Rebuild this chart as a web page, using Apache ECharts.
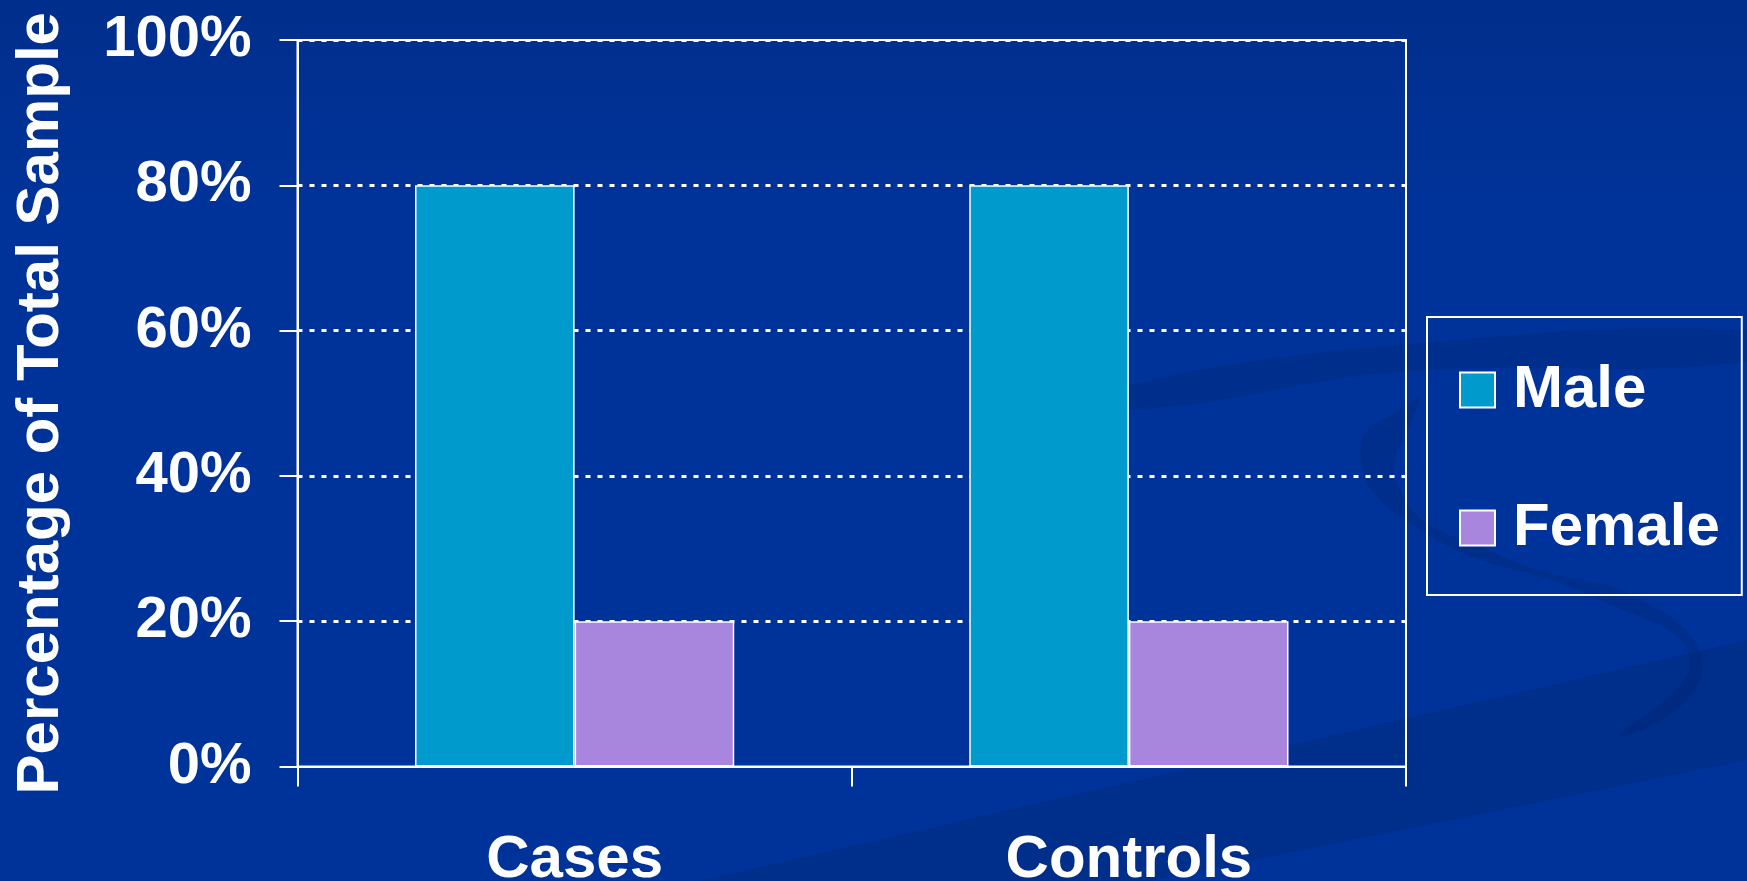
<!DOCTYPE html>
<html>
<head>
<meta charset="utf-8">
<script src="https://cdn.jsdelivr.net/npm/echarts@6/dist/echarts.min.js"></script>
<style>
	html,body{margin:0;padding:0;background:#003399;}
	#chartArea{width:1747px;height:881px;}
</style>
</head>
<body>
<div id="chartArea"></div>
<script>
	// data
	const categories = ['Cases', 'Controls'];
	const maleValues = [80, 80];
	const femaleValues = [20, 20];
	const seriesNames = ['Male', 'Female'];
	const yTicks = [0, 20, 40, 60, 80, 100];

	const font = '"Liberation Sans", Arial, sans-serif';
	const fontSize = 58;
	const bigFont = 60;

	const myChart = echarts.init(document.getElementById('chartArea'));
	const chartOption = {
		backgroundColor: '#003399',
		animation: false,
		textStyle: {fontFamily: font},
		// background gradient + swooshes, decoration only
		graphic: [
			{type: 'rect', silent: true, z: -20, left: 0, top: 0,
				shape: {width: 1747, height: 200},
				style: {fill: new echarts.graphic.LinearGradient(0, 0, 0, 1, [
					{offset: 0, color: '#002e8c'},
					{offset: 1, color: '#003399'}
				])}},
			{type: 'polygon', silent: true, z: -10,
				shape: {points: [[700, 881], [1747, 640], [1747, 760], [1150, 881]]},
				style: {fill: 'rgba(0,30,100,0.25)'}},
			{type: 'polygon', silent: true, z: -10,
				shape: {smooth: 0.4, points: [[1130, 385], [1400, 345], [1747, 330], [1747, 362], [1400, 372], [1130, 410]]},
				style: {fill: 'rgba(0,30,100,0.22)'}},
			{type: 'polygon', silent: true, z: -10,
				shape: {smooth: 0.5, points: [[1420, 395], [1360, 450], [1420, 530], [1600, 600], [1690, 660], [1620, 735], [1700, 680], [1660, 610], [1500, 555], [1400, 490], [1420, 395]]},
				style: {fill: 'rgba(0,30,100,0.22)'}}
		],
		grid: {
			left: 297.5,
			right: 341,
			top: 40,
			bottom: 114.5,
			show: true,
			borderColor: '#ffffff',
			borderWidth: 2,
			containLabel: false,
			outerBoundsMode: 'none'
		},
		legend: {
			data: seriesNames,
			orient: 'vertical',
			left: 1427,
			top: 317,
			icon: 'rect',
			itemWidth: 35,
			itemHeight: 35,
			itemGap: 70,
			padding: [39, 22, 33, 32],
			borderColor: '#ffffff',
			borderWidth: 2,
			textStyle: {
				color: '#ffffff',
				fontSize: bigFont,
				fontWeight: 'bold',
				fontFamily: font,
				lineHeight: 60,
				padding: [8, 0, 0, 13]
			}
		},
		xAxis: [{
			type: 'category',
			data: categories,
			axisLine: {show: true, lineStyle: {color: '#ffffff', width: 2}},
			axisTick: {show: true, length: 20, lineStyle: {color: '#ffffff', width: 2}},
			axisLabel: {
				color: '#ffffff',
				fontSize: bigFont,
				fontWeight: 'bold',
				fontFamily: font,
				margin: 64
			},
			splitLine: {show: false}
		}],
		yAxis: [{
			type: 'value',
			min: 0,
			max: 100,
			interval: 20,
			name: 'Percentage of Total Sample',
			nameLocation: 'middle',
			nameGap: 226,
			nameTextStyle: {
				color: '#ffffff',
				fontSize: bigFont,
				fontWeight: 'bold',
				fontFamily: font
			},
			axisLine: {show: true, lineStyle: {color: '#ffffff', width: 2}},
			axisTick: {show: true, length: 18, lineStyle: {color: '#ffffff', width: 2}},
			axisLabel: {
				color: '#ffffff',
				fontSize: fontSize,
				fontWeight: 'bold',
				fontFamily: font,
				margin: 46,
				formatter: function(value) {
					return yTicks.indexOf(value) >= 0 ? value + '%' : '';
				}
			},
			splitLine: {show: true, showMinLine: false, lineStyle: {color: '#ffffff', type: [5, 7], width: 3}}
		}],
		series: [{
				name: seriesNames[0],
				type: 'bar',
				data: maleValues,
				barWidth: '28.8%',
				barGap: '0%',
				itemStyle: {color: '#009bcc', borderColor: '#ffffff', borderWidth: 1.5}
			}, {
				name: seriesNames[1],
				type: 'bar',
				data: femaleValues,
				barWidth: '28.8%',
				barGap: '0%',
				itemStyle: {color: '#a886dd', borderColor: '#ffffff', borderWidth: 1.5}
			}
		]
	};
	myChart.setOption(chartOption);
</script>
</body>
</html>
